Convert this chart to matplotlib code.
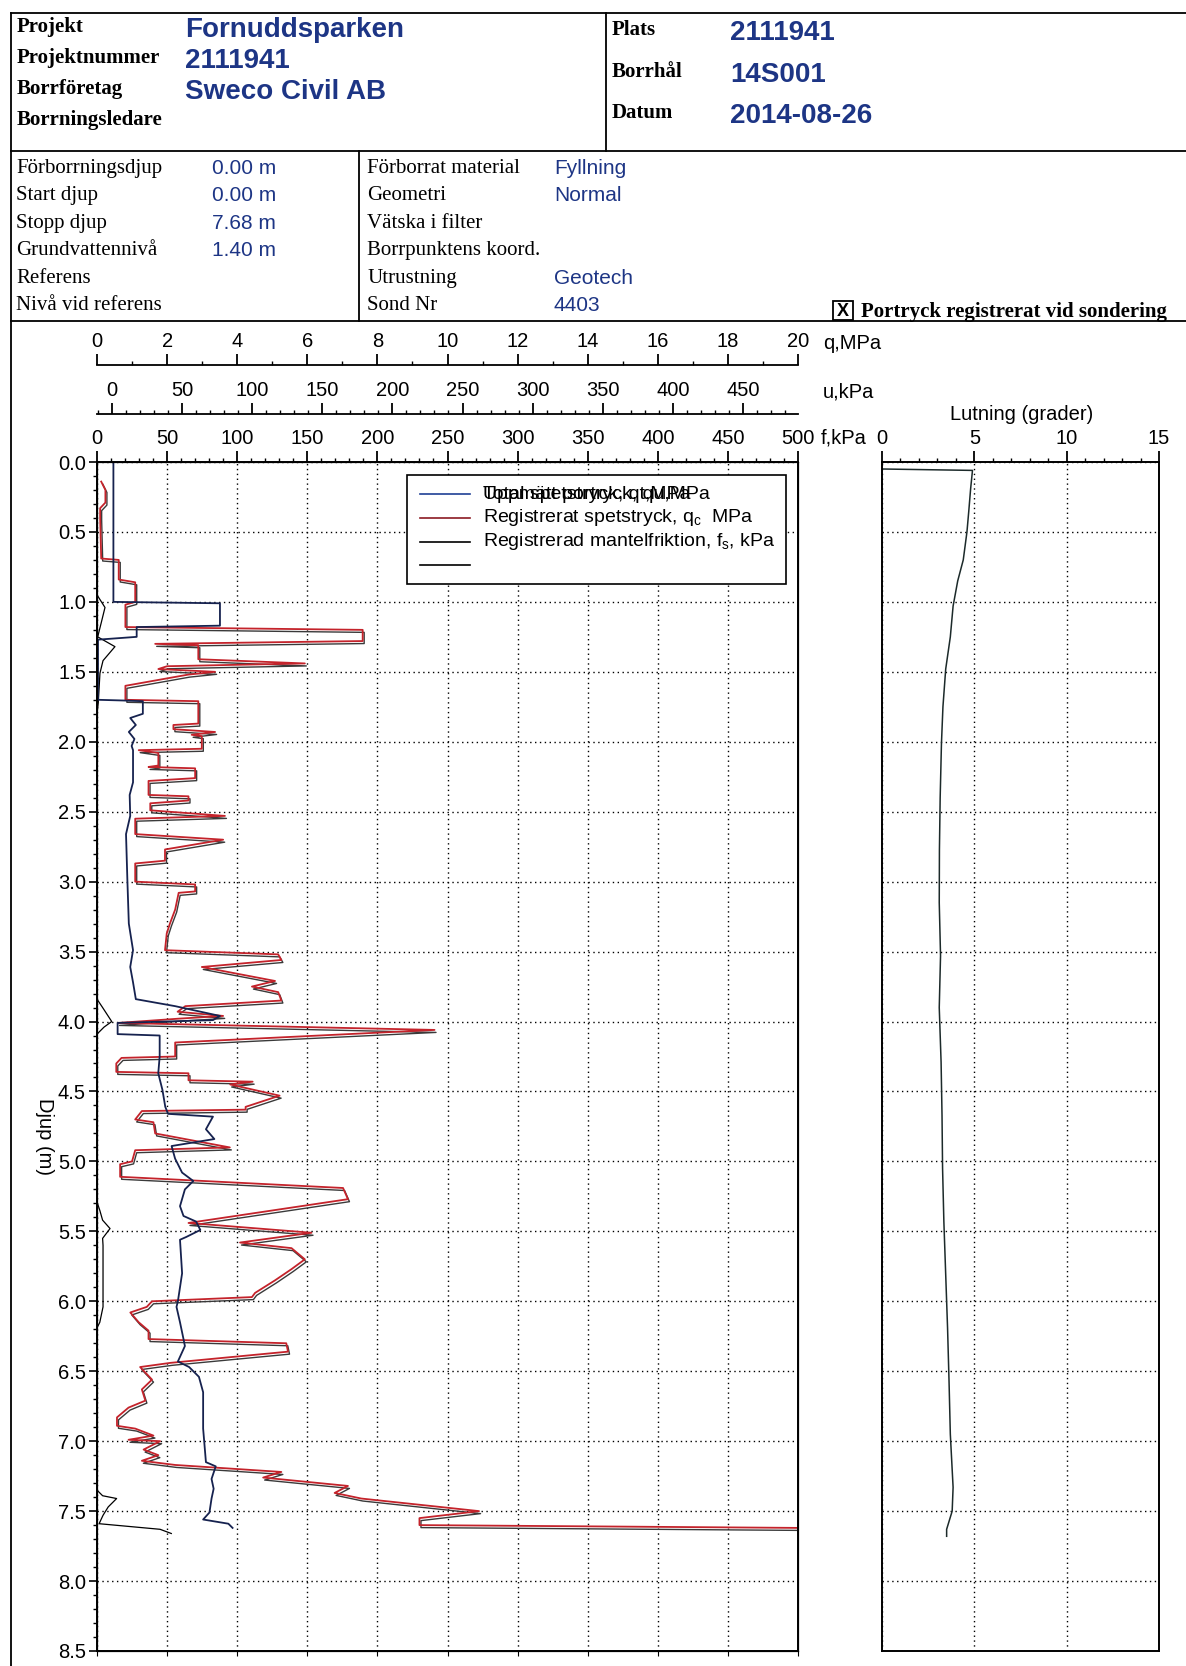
import matplotlib
matplotlib.use("Agg")
import matplotlib.pyplot as plt
from matplotlib import transforms
from matplotlib.ticker import MultipleLocator, FixedLocator, FormatStrFormatter
from matplotlib.patches import Rectangle

W, H = 1186, 1666
SERIF = "Liberation Serif"
SANS = "Liberation Sans"
BLUE = "#1d3585"
TICK_FS = 14.5

# --- header texts ---
head_labels = ["Projekt", "Projektnummer", "Borrföretag", "Borrningsledare"]
head_values = ["Fornuddsparken", "2111941", "Sweco Civil AB", ""]
site_labels = ["Plats", "Borrhål", "Datum"]
site_values = ["2111941", "14S001", "2014-08-26"]
info_labels = ["Förborrningsdjup", "Start djup", "Stopp djup", "Grundvattennivå",
               "Referens", "Nivå vid referens"]
info_values = ["0.00 m", "0.00 m", "7.68 m", "1.40 m", "", ""]
equip_labels = ["Förborrat material", "Geometri", "Vätska i filter",
                "Borrpunktens koord.", "Utrustning", "Sond Nr"]
equip_values = ["Fyllning", "Normal", "", "", "Geotech", "4403"]

# --- sounding data (depth in m) ---
# registrerat spetstryck qc, MPa
qc_depth = [0.14, 0.20, 0.29, 0.33, 0.40, 0.69, 0.70, 0.84, 0.86, 1.00, 1.02, 1.18,
            1.20, 1.28, 1.30, 1.31, 1.41, 1.44, 1.46, 1.48, 1.50, 1.52, 1.60, 1.70,
            1.71, 1.87, 1.88, 1.91, 1.93, 1.95, 1.96, 2.05, 2.06, 2.08, 2.17, 2.18,
            2.19, 2.26, 2.28, 2.38, 2.39, 2.42, 2.44, 2.49, 2.53, 2.55, 2.66, 2.70,
            2.77, 2.85, 2.87, 3.00, 3.02, 3.07, 3.08, 3.20, 3.30, 3.37, 3.49, 3.52,
            3.56, 3.61, 3.71, 3.75, 3.79, 3.85, 3.89, 3.93, 3.96, 3.98, 4.01, 4.06,
            4.15, 4.25, 4.26, 4.30, 4.36, 4.37, 4.42, 4.43, 4.45, 4.53, 4.61, 4.63,
            4.64, 4.70, 4.72, 4.80, 4.90, 4.92, 5.00, 5.02, 5.11, 5.19, 5.27, 5.44,
            5.51, 5.58, 5.62, 5.70, 5.77, 5.85, 5.94, 5.97, 6.00, 6.04, 6.08, 6.15,
            6.21, 6.27, 6.30, 6.36, 6.44, 6.47, 6.56, 6.63, 6.71, 6.76, 6.83, 6.89,
            6.91, 6.96, 6.99, 7.00, 7.06, 7.10, 7.14, 7.17, 7.22, 7.26, 7.32, 7.37,
            7.41, 7.50, 7.55, 7.60, 7.62, 7.66]
qc_value = [0.12, 0.24, 0.24, 0.09, 0.09, 0.12, 0.62, 0.62, 1.09, 1.09, 0.81, 0.81,
            7.58, 7.58, 1.66, 2.89, 2.89, 5.93, 2.00, 1.75, 3.37, 2.60, 0.81, 0.81,
            2.89, 2.89, 2.18, 2.18, 3.37, 2.70, 2.99, 2.99, 1.19, 1.75, 1.75, 1.47,
            2.80, 2.80, 1.47, 1.47, 2.61, 2.61, 1.52, 1.52, 3.65, 1.09, 1.09, 3.60,
            1.94, 1.94, 1.09, 1.09, 2.80, 2.80, 2.33, 2.23, 2.08, 1.99, 1.94, 5.17,
            5.26, 2.99, 5.08, 4.42, 5.17, 5.26, 2.52, 2.30, 3.60, 2.30, 0.60, 9.63,
            2.23, 2.23, 0.70, 0.55, 0.55, 2.61, 2.61, 4.44, 3.80, 5.21, 4.24, 4.24,
            1.28, 1.09, 1.61, 1.66, 3.79, 1.09, 1.00, 0.66, 0.66, 7.02, 7.16, 2.61,
            6.12, 4.08, 5.55, 5.93, 5.55, 5.08, 4.51, 4.42, 1.57, 1.42, 0.95, 1.19,
            1.47, 1.47, 5.40, 5.45, 2.10, 1.23, 1.57, 1.28, 1.38, 0.90, 0.57, 0.57,
            1.09, 1.61, 0.90, 1.80, 1.33, 1.75, 1.28, 2.23, 5.26, 4.74, 7.16, 6.78,
            7.54, 10.90, 9.20, 9.20, 20.00, 20.00]

# portryck u, kPa
u_depth = [0.00, 1.00, 1.01, 1.17, 1.18, 1.25, 1.27, 1.70, 1.705, 1.71, 1.80, 1.83,
           1.88, 1.93, 1.98, 2.03, 2.06, 2.29, 2.38, 2.53, 2.66, 3.00, 3.30, 3.49,
           3.61, 3.72, 3.84, 3.89, 3.96, 3.99, 4.01, 4.09, 4.10, 4.25, 4.37, 4.49,
           4.61, 4.66, 4.68, 4.77, 4.84, 4.89, 4.98, 5.08, 5.14, 5.20, 5.32, 5.39,
           5.43, 5.49, 5.54, 5.56, 5.80, 6.00, 6.04, 6.15, 6.27, 6.32, 6.43, 6.47,
           6.54, 6.65, 6.91, 7.15, 7.18, 7.27, 7.34, 7.41, 7.51, 7.56, 7.59, 7.62]
u_value = [1, 1, 77, 77, 17.6, 17.6, -10, -10, 8, 22, 22, 13,
           17, 12, 16, 14, 15, 15, 12.6, 13, 10, 11, 12, 15,
           13, 15, 17, 45, 77, 72, 4, 4, 34, 34, 33, 36,
           38, 40, 72, 67, 73, 42.5, 45, 50, 58, 52, 48.5, 51,
           60, 63, 53, 48.5, 50, 47, 46, 48.5, 51, 52, 47, 55,
           62, 65, 65, 67, 74, 71, 72.5, 71, 69.5, 65, 83, 86]

# mantelfriktion fs, kPa
fs_depth = [0.00, 0.95, 1.04, 1.15, 1.25, 1.32, 1.42, 1.51, 1.72, 1.80, 3.84, 3.90,
            4.00, 4.04, 4.09, 5.29, 5.35, 5.42, 5.48, 5.55, 5.60, 6.04, 6.15, 6.19,
            7.35, 7.39, 7.41, 7.47, 7.53, 7.59, 7.63, 7.66]
fs_value = [0, 0, 5.7, 3, 0.5, 12.8, 4.3, 2.1, 0.9, 0, 0, 4,
            10.5, 5, 0, 0, 2, 4, 9.3, 4, 4.3, 4.3, 2, 0,
            0, 4, 14, 8, 4.3, 1.5, 45, 53]

# lutning, grader
lut_depth = [0.05, 0.06, 0.19, 0.35, 0.50, 0.70, 0.85, 1.03, 1.25, 1.48, 1.75, 2.01,
             2.40, 2.77, 3.15, 3.53, 3.90, 4.29, 4.67, 5.05, 5.43, 5.81, 6.19, 6.57,
             6.95, 7.33, 7.50, 7.63, 7.68]
lut_value = [0.0, 4.9, 4.8, 4.7, 4.6, 4.4, 4.1, 3.85, 3.7, 3.45, 3.3, 3.22,
             3.15, 3.11, 3.1, 3.17, 3.1, 3.2, 3.25, 3.28, 3.35, 3.45, 3.55, 3.63,
             3.7, 3.85, 3.8, 3.5, 3.5]


def fig_rect(x0, y0, x1, y1):
    """Pixel box (top-left origin) -> figure fraction rect."""
    return [x0 / W, 1 - y1 / H, (x1 - x0) / W, (y1 - y0) / H]


fig = plt.figure(figsize=(W / 100, H / 100), dpi=100)
fig.patch.set_facecolor("white")

# page layer for header boxes and free text (pixel coordinates)
page = fig.add_axes([0, 0, 1, 1])
page.set_xlim(0, W)
page.set_ylim(H, 0)
page.axis("off")

frame = dict(color="black", lw=1.3)
page.plot([11, W], [13, 13], **frame)
page.plot([11, W], [151, 151], **frame)
page.plot([11, W], [321, 321], **frame)
page.plot([11, 11], [13, H], **frame)
page.plot([606, 606], [13, 151], **frame)
page.plot([359, 359], [151, 321], **frame)

for i, (lab, val) in enumerate(zip(head_labels, head_values)):
    y = 27 + i * 31
    page.text(17, y, lab, family=SERIF, weight="bold", fontsize=15, va="center")
    page.text(185, y + 3, val, family=SANS, weight="bold", fontsize=20,
              color=BLUE, va="center")
for i, (lab, val) in enumerate(zip(site_labels, site_values)):
    y = 30 + i * 41.5
    page.text(612, y, lab, family=SERIF, weight="bold", fontsize=15, va="center")
    page.text(730, y + 3, val, family=SANS, weight="bold", fontsize=20,
              color=BLUE, va="center")
for i, (lab, val) in enumerate(zip(info_labels, info_values)):
    y = 168 + i * 27.5
    page.text(16, y, lab, family=SERIF, fontsize=15, va="center")
    page.text(212, y, val, family=SANS, fontsize=15, color=BLUE, va="center")
for i, (lab, val) in enumerate(zip(equip_labels, equip_values)):
    y = 168 + i * 27.5
    page.text(367, y, lab, family=SERIF, fontsize=15, va="center")
    page.text(554, y, val, family=SANS, fontsize=15, color=BLUE, va="center")

page.add_patch(Rectangle((833, 301), 20, 19, fill=False, lw=1.3, ec="black"))
page.text(843, 311, "X", family=SANS, weight="bold", fontsize=13,
          ha="center", va="center")
page.text(861, 312, "Portryck registrerat vid sondering", family=SERIF,
          weight="bold", fontsize=15, va="center")

page.text(823, 343, "q,MPa", family=SANS, fontsize=TICK_FS, va="center")
page.text(823, 392, "u,kPa", family=SANS, fontsize=TICK_FS, va="center")
page.text(821, 438, "f,kPa", family=SANS, fontsize=TICK_FS, va="center")
page.text(1022, 414, "Lutning (grader)", family=SANS, fontsize=TICK_FS,
          ha="center", va="center")
page.text(44, 1136, "Djup (m)", family=SANS, fontsize=14.5, rotation=270,
          ha="center", va="center")


def scale_bar(y, lo, hi, majors, minors):
    a = fig.add_axes([97 / W, 1 - y / H, 701 / W, 1e-4])
    a.patch.set_visible(False)
    for side in ("left", "right", "bottom"):
        a.spines[side].set_visible(False)
    a.spines["top"].set_linewidth(1.3)
    a.set_xlim(lo, hi)
    a.set_yticks([])
    a.xaxis.tick_top()
    a.xaxis.set_major_locator(FixedLocator(majors))
    a.xaxis.set_minor_locator(FixedLocator(minors))
    a.tick_params(axis="x", which="major", direction="out", length=8, width=1.3,
                  labelsize=TICK_FS, pad=2)
    a.tick_params(axis="x", which="minor", direction="out", length=3, width=1.0)
    for t in a.get_xticklabels():
        t.set_family(SANS)
    return a


scale_bar(365, 0, 20, list(range(0, 21, 2)), list(range(1, 20, 2)))
scale_bar(414, -10.7, 489.3, list(range(0, 451, 50)), list(range(-10, 490, 10)))

# --- main sounding plot (q axis, MPa) ---
ax = fig.add_axes(fig_rect(97, 462, 798, 1651))
ax.set_xlim(0, 20)
ax.set_ylim(8.5, 0)
ax.xaxis.set_major_locator(MultipleLocator(2))
ax.tick_params(axis="x", which="both", bottom=False, top=False,
               labelbottom=False, labeltop=False)
ax.yaxis.set_major_locator(MultipleLocator(0.5))
ax.yaxis.set_minor_locator(MultipleLocator(0.1))
ax.yaxis.set_major_formatter(FormatStrFormatter("%.1f"))
ax.tick_params(axis="y", which="major", direction="out", length=6, width=1.2,
               labelsize=TICK_FS, pad=2)
ax.tick_params(axis="y", which="minor", direction="out", length=3, width=1.0)
for t in ax.get_yticklabels():
    t.set_family(SANS)
ax.grid(True, which="major", color="black", lw=1.0, ls=(0, (1, 2.5)))
for s in ax.spines.values():
    s.set_linewidth(1.4)

shadow = transforms.offset_copy(ax.transData, fig=fig, x=1.5, y=-2.5, units="dots")
ax.plot(qc_value, qc_depth, color="#3a3a3a", lw=1.0, transform=shadow)
ax.plot(qc_value, qc_depth, color="#c4232b", lw=1.3)

# f axis on top spine, kPa
axf = ax.twiny()
axf.set_xlim(0, 500)
axf.xaxis.set_major_locator(MultipleLocator(50))
axf.xaxis.set_minor_locator(MultipleLocator(10))
axf.tick_params(axis="x", which="major", direction="out", length=8, width=1.3,
                labelsize=TICK_FS, pad=2)
axf.tick_params(axis="x", which="minor", direction="out", length=3, width=1.0)
for t in axf.get_xticklabels():
    t.set_family(SANS)
axf.plot(fs_value, fs_depth, color="black", lw=0.9)

# u axis (kPa), offset scale
axu = ax.twiny()
axu.set_xlim(-10.7, 489.3)
axu.tick_params(axis="x", which="both", top=False, labeltop=False)
axu.plot(u_value, u_depth, color="#16224f", lw=1.3)

# legend drawn as in the original protocol
lx0, lx1 = 0.442, 0.983
ly0, ly1 = 0.897, 0.989
axu.add_patch(Rectangle((lx0, ly0), lx1 - lx0, ly1 - ly0, transform=axu.transAxes,
                        facecolor="white", edgecolor="black", lw=1.2, zorder=10))
leg_colors = ["#1f3f95", "#8b1a22", "black", "black"]
leg_rows = [0.973, 0.953, 0.933, 0.913]
leg_texts = ["Total spetstryck, qt,MPa",
             "Registrerat spetstryck, q$_\\mathregular{c}$  MPa",
             "Registrerad mantelfriktion, f$_\\mathregular{s}$, kPa", ""]
for c, yy, txt in zip(leg_colors, leg_rows, leg_texts):
    axu.plot([0.461, 0.532], [yy, yy], color=c, lw=1.2, transform=axu.transAxes,
             zorder=11, clip_on=False)
    axu.text(0.551, yy, txt, transform=axu.transAxes, family=SANS, fontsize=14,
             va="center", zorder=11)
# the original prints two labels on top of each other in the first row
axu.text(0.551, leg_rows[0], "Uppmätt portryck, qu,MPa", transform=axu.transAxes,
         family=SANS, fontsize=14, va="center", zorder=11)

# --- inclination panel ---
axl = fig.add_axes(fig_rect(882, 462, 1159, 1651))
axl.set_xlim(0, 15)
axl.set_ylim(8.5, 0)
axl.xaxis.tick_top()
axl.xaxis.set_major_locator(MultipleLocator(5))
axl.xaxis.set_minor_locator(MultipleLocator(1))
axl.yaxis.set_major_locator(MultipleLocator(0.5))
axl.tick_params(axis="x", which="major", direction="out", length=8, width=1.3,
                labelsize=TICK_FS, pad=2)
axl.tick_params(axis="x", which="minor", direction="out", length=3, width=1.0)
axl.tick_params(axis="y", which="both", left=False, labelleft=False)
for t in axl.get_xticklabels():
    t.set_family(SANS)
axl.grid(True, which="major", color="black", lw=1.0, ls=(0, (1, 2.5)))
for s in axl.spines.values():
    s.set_linewidth(1.4)
axl.plot(lut_value, lut_depth, color="#1c2a2a", lw=1.1)

fig.savefig("out.png", dpi=100)
